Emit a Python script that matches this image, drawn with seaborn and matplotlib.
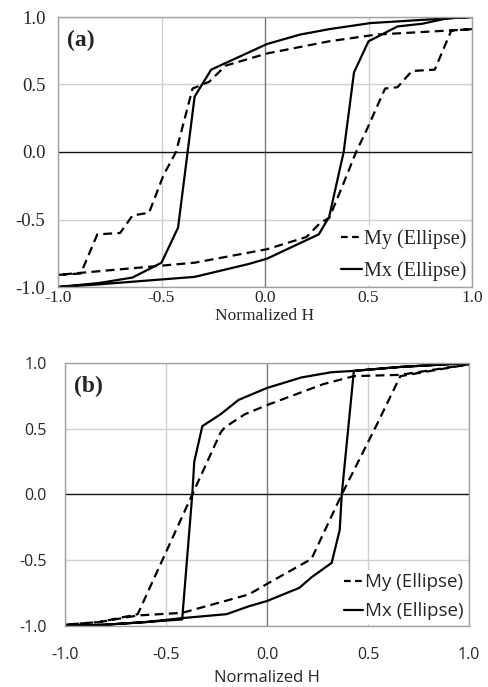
import numpy as np
import pandas as pd
import matplotlib
matplotlib.use("Agg")
import matplotlib.pyplot as plt
import seaborn as sns

# ---------------- data ----------------
# Panel (a)
a_mx_desc_h = [1.0, 0.88, 0.51, 0.31, 0.17, 0.01, -0.26, -0.34, -0.42, -0.50, -0.64, -0.80, -1.0]
a_mx_desc_m = [1.0, 0.99, 0.955, 0.91, 0.87, 0.80, 0.61, 0.41, -0.56, -0.82, -0.93, -0.97, -1.0]
a_mx_asc_h = [-1.0, -0.80, -0.34, -0.08, 0.01, 0.26, 0.31, 0.38, 0.43, 0.50, 0.64, 0.76, 0.88, 1.0]
a_mx_asc_m = [-1.0, -0.98, -0.925, -0.83, -0.79, -0.61, -0.48, 0.0, 0.59, 0.82, 0.93, 0.95, 0.99, 1.0]
a_my_desc_h = [1.0, 0.89, 0.54, 0.31, 0.01, -0.19, -0.27, -0.35, -0.43, -0.49, -0.56, -0.64, -0.70, -0.81, -0.89, -1.0]
a_my_desc_m = [0.91, 0.90, 0.87, 0.82, 0.73, 0.64, 0.52, 0.47, 0.0, -0.17, -0.45, -0.47, -0.60, -0.61, -0.90, -0.91]
a_my_asc_h = [-1.0, -0.34, 0.01, 0.20, 0.27, 0.31, 0.38, 0.44, 0.49, 0.58, 0.64, 0.71, 0.82, 0.90, 1.0]
a_my_asc_m = [-0.91, -0.82, -0.72, -0.63, -0.52, -0.49, -0.23, 0.0, 0.16, 0.47, 0.48, 0.60, 0.61, 0.90, 0.91]

# Panel (b)
b_mx_desc_h = [1.0, 0.66, 0.43, 0.32, 0.17, 0.0, -0.14, -0.23, -0.32, -0.36, -0.37, -0.42, -0.6, -0.8, -1.0]
b_mx_desc_m = [1.0, 0.97, 0.94, 0.93, 0.89, 0.81, 0.72, 0.61, 0.52, 0.25, 0.0, -0.95, -0.97, -0.99, -1.0]
b_mx_asc_h = [-1.0, -0.8, -0.6, -0.42, -0.2, -0.09, 0.0, 0.16, 0.22, 0.32, 0.36, 0.37, 0.43, 0.66, 1.0]
b_mx_asc_m = [-1.0, -0.99, -0.97, -0.94, -0.91, -0.85, -0.81, -0.71, -0.63, -0.52, -0.27, 0.0, 0.94, 0.97, 1.0]
b_my_desc_h = [1.0, 0.66, 0.43, 0.28, 0.0, -0.11, -0.21, -0.23, -0.37, -0.64, -0.83, -1.0]
b_my_desc_m = [0.99, 0.91, 0.90, 0.84, 0.68, 0.61, 0.51, 0.47, 0.0, -0.91, -0.97, -0.99]
b_my_asc_h = [-1.0, -0.83, -0.64, -0.42, -0.09, 0.0, 0.22, 0.37, 0.54, 0.66, 1.0]
b_my_asc_m = [-0.99, -0.97, -0.92, -0.90, -0.76, -0.68, -0.49, 0.0, 0.52, 0.90, 0.99]

ticks = [-1.0, -0.5, 0.0, 0.5, 1.0]
tick_labels = ["-1.0", "-0.5", "0.0", "0.5", "1.0"]
series_labels = ["My (Ellipse)", "Mx (Ellipse)"]
xlabel = "Normalized H"
panel_labels = ["(a)", "(b)"]


def loop_df(dh, dm, ah, am, name):
    h = list(dh) + list(ah)
    m = list(dm) + list(am)
    return pd.DataFrame({"H": h, "M": m, "series": name})


sns.set_style("white")

fig = plt.figure(figsize=(4.88, 6.87), dpi=100)
ax_a = fig.add_axes([58 / 488, 1 - 287 / 687, 414 / 488, 270 / 687])
ax_b = fig.add_axes([65 / 488, 1 - 626 / 687, 404 / 488, 263 / 687])

panels = [
    # ax, data..., family, x tick fs, y tick fs, legend fs, xlabel fs, xpad, ypad, xlabel y (axes)
    (ax_a, a_my_desc_h, a_my_desc_m, a_my_asc_h, a_my_asc_m,
     a_mx_desc_h, a_mx_desc_m, a_mx_asc_h, a_mx_asc_m,
     "Liberation Serif", 12.5, 13.5, 14.5, 12.5, 2, 9, -0.076),
    (ax_b, b_my_desc_h, b_my_desc_m, b_my_asc_h, b_my_asc_m,
     b_mx_desc_h, b_mx_desc_m, b_mx_asc_h, b_mx_asc_m,
     "Open Sans", 11.5, 11.5, 13.5, 12, 15, 13, -0.168),
]

for i, (ax, ydh, ydm, yah, yam, xdh, xdm, xah, xam, fam, xtfs, ytfs, lfs, xfs, xpad, ypad, ly) in enumerate(panels):
    df_my = loop_df(ydh, ydm, yah, yam, series_labels[0])
    df_mx = loop_df(xdh, xdm, xah, xam, series_labels[1])

    # grid
    for t in ticks:
        if t != 0.0:
            ax.axvline(t, color="#cfcfcf", lw=1.0, zorder=0)
            ax.axhline(t, color="#cfcfcf", lw=1.0, zorder=0)
    ax.axvline(0.0, color="#7a7a7a", lw=1.0, zorder=0.5)
    ax.axhline(0.0, color="#111111", lw=1.0, zorder=0.5)

    sns.lineplot(data=df_my, x="H", y="M", sort=False, estimator=None, ax=ax,
                 color="black", lw=1.6, label=series_labels[0])
    ax.lines[-1].set_dashes((4, 2.4))
    sns.lineplot(data=df_mx, x="H", y="M", sort=False, estimator=None, ax=ax,
                 color="black", lw=1.6, label=series_labels[1])

    ax.set_xlim(-1.0, 1.0)
    ax.set_ylim(-1.0, 1.0)
    ax.set_xticks(ticks)
    ax.set_yticks(ticks)
    ax.set_xticklabels(tick_labels, fontfamily=fam, fontsize=xtfs)
    ax.set_yticklabels(tick_labels, fontfamily=fam, fontsize=ytfs)
    ax.tick_params(axis="both", length=0)
    ax.tick_params(axis="x", pad=xpad)
    ax.tick_params(axis="y", pad=ypad)
    ax.set_xlabel(xlabel, fontfamily=fam, fontsize=xfs)
    ax.xaxis.set_label_coords(0.5, ly)
    ax.set_ylabel("")
    for s in ax.spines.values():
        s.set_color("#a0a0a0")
        s.set_linewidth(1.0)

    ax.text(0.022, 0.912, panel_labels[i], transform=ax.transAxes,
            fontfamily="Liberation Serif", fontweight="bold", fontsize=17,
            ha="left", va="center")

    leg = ax.legend(loc="lower right", frameon=True, fancybox=False,
                    prop={"family": fam, "size": lfs},
                    handlelength=1.0, handletextpad=0.1, borderpad=0.15,
                    labelspacing=0.6, borderaxespad=0.15)
    for t in leg.get_texts():
        t.set_fontfamily(fam)
        t.set_fontsize(lfs)
    leg.get_frame().set_facecolor("white")
    leg.get_frame().set_edgecolor("white")
    leg.get_frame().set_alpha(1.0)
    leg.get_lines()[0].set_dashes((3, 2))

fig.savefig("out.png", dpi=100, facecolor="white")
